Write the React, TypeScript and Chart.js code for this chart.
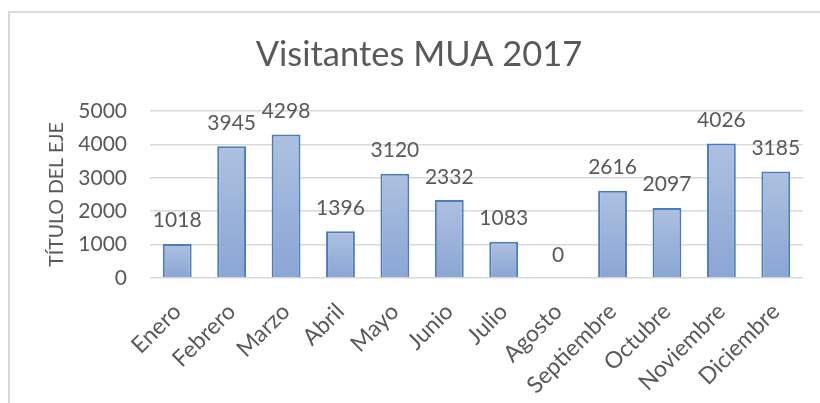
import React, { useEffect, useRef } from "react";
import { Chart, registerables } from "chart.js";

Chart.register(...registerables);

const months = ["Enero", "Febrero", "Marzo", "Abril", "Mayo", "Junio", "Julio", "Agosto", "Septiembre", "Octubre", "Noviembre", "Diciembre"];
const visitors = [1018, 3945, 4298, 1396, 3120, 2332, 1083, 0, 2616, 2097, 4026, 3185];
const titleText = "Visitantes MUA 2017";
const yAxisTitle = "TÍTULO DEL EJE";

const TEXT = "#595959";
const FONT = "Lato";

const labelPlugin = {
  id: "valueLabels",
  afterDatasetsDraw(chart: any) {
    const ctx = chart.ctx;
    const meta = chart.getDatasetMeta(0);
    ctx.save();
    ctx.fillStyle = TEXT;
    ctx.font = `21px ${FONT}`;
    ctx.textAlign = "center";
    ctx.textBaseline = "alphabetic";
    meta.data.forEach((bar: any, i: number) => {
      ctx.fillText(String(visitors[i]), bar.x, bar.y - 16.5);
    });
    ctx.restore();
  },
};

const titlePlugin = {
  id: "centeredTitle",
  afterDraw(chart: any) {
    const ctx = chart.ctx;
    ctx.save();
    ctx.fillStyle = TEXT;
    ctx.font = `34.5px ${FONT}`;
    ctx.textAlign = "center";
    ctx.textBaseline = "middle";
    ctx.fillText(titleText, 419, 55);
    ctx.restore();
  },
};

export default function App() {
  const ref = useRef<HTMLCanvasElement>(null);
  useEffect(() => {
    if (!ref.current) return;
    const chart = new Chart(ref.current, {
      type: "bar",
      data: {
        labels: months,
        datasets: [
          {
            data: visitors,
            backgroundColor: (c: any) => {
              const ch = c.chart;
              const ys = ch.scales?.y;
              if (!ch.chartArea || !ys || c.raw === undefined) return "#9cb3da";
              const top = ys.getPixelForValue(c.raw);
              const base = ys.getPixelForValue(0);
              if (Math.abs(base - top) < 1) return "#9cb3da";
              const g = ch.ctx.createLinearGradient(0, top, 0, base);
              g.addColorStop(0, "#adc0e0");
              g.addColorStop(1, "#8aa6d5");
              return g;
            },
            borderColor: "#4a7dba",
            borderWidth: (c: any) => (c.raw === 0 ? 0 : 2),
            barPercentage: 0.53,
            categoryPercentage: 1,
          },
        ],
      },
      options: {
        animation: false,
        responsive: false,
        maintainAspectRatio: false,
        layout: { padding: { left: 0, right: 17, top: 111, bottom: 0 } },
        plugins: {
          legend: { display: false },
          tooltip: { enabled: false },
          title: { display: false },
        },
        scales: {
          x: {
            grid: { display: false, drawTicks: false },
            border: { display: false },
            ticks: {
              color: TEXT,
              font: { family: FONT, size: 23 },
              minRotation: 45,
              maxRotation: 45,
              autoSkip: false,
              padding: 20,
            },
            afterFit: (s: any) => {
              s.height = 125;
            },
          },
          y: {
            min: 0,
            max: 5000,
            grid: { color: "#d9d9d9", lineWidth: 1.5, drawTicks: false },
            border: { display: false },
            ticks: {
              stepSize: 1000,
              color: TEXT,
              font: { family: FONT, size: 21 },
              padding: 23,
              callback: (v: any) => String(v),
            },
            title: {
              display: true,
              text: yAxisTitle,
              color: TEXT,
              font: { family: FONT, size: 19.5 },
              padding: { top: 45, bottom: 0 },
            },
            afterFit: (s: any) => {
              s.width = 150;
            },
          },
        },
      },
      plugins: [labelPlugin, titlePlugin],
    });
    return () => chart.destroy();
  }, []);

  return (
    <div style={{ position: "fixed", left: 0, top: 0, width: 820, height: 403, overflow: "hidden", background: "#fff" }}>
      <div
        style={{
          position: "absolute",
          left: 8,
          top: 11,
          width: 900,
          height: 500,
          border: "2px solid #d9d9d9",
          boxSizing: "border-box",
        }}
      />
      <canvas ref={ref} width={820} height={403} style={{ position: "absolute", left: 0, top: 0, width: 820, height: 403 }} />
    </div>
  );
}
